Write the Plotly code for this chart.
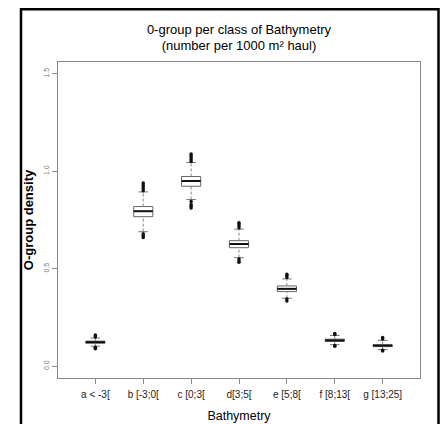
import plotly.graph_objects as go

categories = ["a < -3[", "b [-3;0[", "c [0;3[", "d[3;5[", "e [5;8[", "f [8;13[", "g [13;25]"]
q1 = [0.118, 0.767, 0.923, 0.608, 0.383, 0.127, 0.101]
median = [0.124, 0.795, 0.950, 0.627, 0.397, 0.133, 0.106]
q3 = [0.129, 0.819, 0.973, 0.644, 0.412, 0.139, 0.111]
lower_whisker = [0.103, 0.690, 0.855, 0.557, 0.349, 0.111, 0.086]
upper_whisker = [0.145, 0.894, 1.045, 0.703, 0.448, 0.158, 0.133]
outliers = [
    [0.150, 0.155, 0.160, 0.098, 0.094, 0.090],
    [0.900, 0.910, 0.920, 0.930, 0.940, 0.680, 0.670, 0.660],
    [1.050, 1.060, 1.070, 1.080, 1.088, 0.845, 0.830, 0.820, 0.812],
    [0.710, 0.720, 0.730, 0.736, 0.550, 0.540, 0.533],
    [0.455, 0.465, 0.472, 0.345, 0.335],
    [0.163, 0.168, 0.107, 0.103],
    [0.140, 0.147, 0.082, 0.078],
]
y_ticks = [0.0, 0.5, 1.0, 1.5]
y_ticklabels = ["0.0", "0.5", "1.0", "1.5"]

pos = list(range(1, len(categories) + 1))
box_w = 0.4
cap_half = 0.1

fig = go.Figure()

# whiskers (dashed)
wx, wy = [], []
for p, a, b, c, d in zip(pos, lower_whisker, q1, q3, upper_whisker):
    wx += [p, p, None, p, p, None]
    wy += [a, b, None, c, d, None]
fig.add_trace(go.Scatter(x=wx, y=wy, mode="lines", line=dict(color="#888888", width=1, dash="3px,2px"),
                         hoverinfo="skip", showlegend=False))
# caps
cx, cy = [], []
for p, a, d in zip(pos, lower_whisker, upper_whisker):
    cx += [p - cap_half, p + cap_half, None, p - cap_half, p + cap_half, None]
    cy += [a, a, None, d, d, None]
fig.add_trace(go.Scatter(x=cx, y=cy, mode="lines", line=dict(color="#777777", width=1),
                         hoverinfo="skip", showlegend=False))

# boxes
fig.add_trace(go.Box(x=pos, q1=q1, median=median, q3=q3, lowerfence=q1, upperfence=q3,
                     width=box_w, whiskerwidth=0, fillcolor="white",
                     line=dict(color="#666666", width=1), boxpoints=False,
                     hoverinfo="skip", showlegend=False))
# thick medians
mx, my = [], []
for p, m in zip(pos, median):
    mx += [p - box_w / 2, p + box_w / 2, None]
    my += [m, m, None]
fig.add_trace(go.Scatter(x=mx, y=my, mode="lines", line=dict(color="#111111", width=2),
                         hoverinfo="skip", showlegend=False))

# outliers
ox, oy = [], []
for p, vals in zip(pos, outliers):
    for v in vals:
        ox.append(p)
        oy.append(v)
fig.add_trace(go.Scatter(x=ox, y=oy, mode="markers",
                         marker=dict(symbol="circle", size=3.5, color="#111111"),
                         hoverinfo="skip", showlegend=False))

font = "Liberation Sans, Arial, sans-serif"
fig.update_layout(
    width=442, height=424,
    margin=dict(l=58, r=22, t=62, b=46, autoexpand=False),
    paper_bgcolor="white", plot_bgcolor="white",
    font=dict(family=font, color="black"),
    title=dict(text="0-group per class of Bathymetry<br>(number per 1000 m² haul)",
               x=(58 + 181) / 442, xanchor="center", y=1 - 33.5 / 424, yanchor="middle",
               font=dict(size=13, family=font)),
    xaxis=dict(range=[0.22, 7.78], tickmode="array", tickvals=pos, ticktext=categories,
               automargin=False,
               showgrid=False, zeroline=False, showline=True, linecolor="#888888", linewidth=1,
               mirror=True, ticks="outside", ticklen=5, tickcolor="#888888", ticklabelstandoff=2,
               tickfont=dict(size=10, family=font, color="#222222"),
               title=dict(text="Bathymetry", font=dict(size=12.5, family=font), standoff=12)),
    yaxis=dict(range=[-0.06, 1.56], tickmode="array", tickvals=y_ticks, ticktext=y_ticklabels,
               automargin=False,
               showgrid=False, zeroline=False, showline=True, linecolor="#888888", linewidth=1,
               mirror=True, ticks="outside", ticklen=5, tickcolor="#888888", tickangle=-90,
               tickfont=dict(size=7, family=font, color="#777777"),
               title=dict(text="<b>O-group density</b>", font=dict(size=13, family=font), standoff=6)),
)

# outer black frame
fig.add_shape(type="rect", xref="paper", yref="paper",
              x0=(21 - 58) / 362, x1=(438.5 - 58) / 362, y0=(378 - 440) / 316, y1=(378 - 9.3) / 316,
              line=dict(color="black", width=2.5), fillcolor="rgba(0,0,0,0)", layer="above")

fig.write_html("out.html", config={"displayModeBar": False},
               post_script="document.body.style.margin='0';document.body.style.padding='0';")
